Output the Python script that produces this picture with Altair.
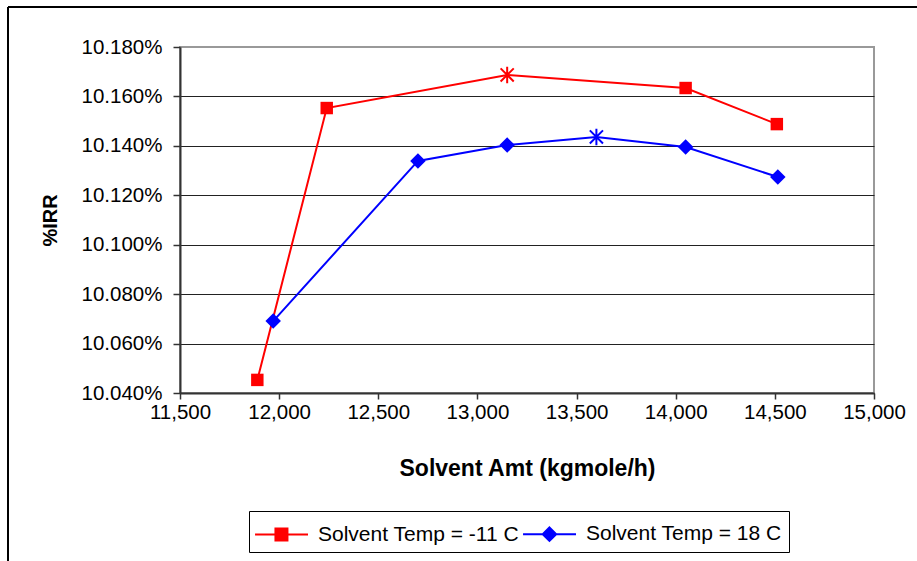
import altair as alt
import pandas as pd

# ---- data ----
series_names = ["Solvent Temp = -11 C", "Solvent Temp = 18 C"]
red_x = [11890, 12240, 13150, 14050, 14510]
red_y = [10.0453, 10.1553, 10.1687, 10.1634, 10.1488]
blue_x = [11970, 12700, 13150, 13600, 14050, 14515]
blue_y = [10.0691, 10.1339, 10.1403, 10.1436, 10.1395, 10.1274]
x_ticks = [11500, 12000, 12500, 13000, 13500, 14000, 14500, 15000]
y_ticks = [10.04, 10.06, 10.08, 10.10, 10.12, 10.14, 10.16, 10.18]

frames = []
for name, xs, ys in [(series_names[0], red_x, red_y), (series_names[1], blue_x, blue_y)]:
    d = pd.DataFrame({"series": name, "amt": xs, "irr": ys})
    d["is_max"] = d["irr"] == d["irr"].max()
    frames.append(d)
df = pd.concat(frames, ignore_index=True)

FONT = "Liberation Sans"
colors = ["#FF0000", "#0000FF"]
ASTERISK = "M0,-1V1M-0.8,-0.8L0.8,0.8M-0.8,0.8L0.8,-0.8"
LEG_RED = "M-1.13,0H2.4M0.23,-0.4H1.03V0.4H0.23Z"
LEG_BLUE = "M-1.13,0H2.4M0.63,-0.45L1.08,0L0.63,0.45L0.18,0Z"

legend = alt.Legend(
    title=None, orient="none", legendX=69, legendY=464, direction="horizontal",
    strokeColor="black", fillColor="white", padding=7,
    symbolSize=900, symbolStrokeWidth=2, symbolOpacity=1,
    labelFont=FONT, labelFontSize=21, labelColor="black", labelOffset=30,
    columnPadding=0, labelLimit=400,
)

x_enc = alt.X(
    "amt:Q",
    scale=alt.Scale(domain=[11500, 15000], nice=False, zero=False),
    axis=alt.Axis(
        values=x_ticks, format=",.0f", title="Solvent Amt (kgmole/h)", grid=False,
        labelFont=FONT, labelFontSize=20.5, labelColor="black", labelPadding=3,
        labelOverlap=False, labelFlush=False,
        tickSize=6, tickColor="#333333", tickWidth=1.5,
        domainColor="#333333", domainWidth=2,
        titleFont=FONT, titleFontSize=23, titleFontWeight="bold", titleColor="black",
        titleX=347, titleY=75, titleBaseline="middle", titleAlign="center",
    ),
)
y_enc = alt.Y(
    "irr:Q",
    scale=alt.Scale(domain=[10.04, 10.18], nice=False, zero=False),
    axis=alt.Axis(
        values=y_ticks, labelExpr="format(datum.value, '.3f') + '%'", title="%IRR",
        grid=True,
        gridColor={"condition": {"test": "datum.value > 10.179", "value": "#999999"}, "value": "#222222"},
        gridWidth=1,
        labelFont=FONT, labelFontSize=20.5, labelColor="black", labelPadding=11,
        labelFlush=False,
        tickSize=7, tickColor="#333333", tickWidth=1.5,
        domainColor="#333333", domainWidth=2,
        titleFont=FONT, titleFontSize=20, titleFontWeight="bold", titleColor="black",
        titleX=-130, titleY=173, titleAngle=270, titleBaseline="middle", titleAlign="center",
    ),
)
color_enc = alt.Color("series:N", scale=alt.Scale(domain=series_names, range=colors), legend=None)

base = alt.Chart(df).encode(x=x_enc, y=y_enc)

lines = base.mark_line(strokeWidth=2).encode(color=color_enc)
red_pts = base.transform_filter(
    alt.datum.series == series_names[0]
).transform_filter("!datum.is_max").mark_point(
    shape="square", filled=True, opacity=1, size=155, color=colors[0]
)
blue_pts = base.transform_filter(
    alt.datum.series == series_names[1]
).transform_filter("!datum.is_max").mark_point(
    shape="diamond", filled=True, opacity=1, size=240, color=colors[1]
)
stars = base.transform_filter("datum.is_max").mark_point(
    shape=ASTERISK, filled=False, size=270, strokeWidth=2, opacity=1
).encode(color=color_enc)

# legend-only layer (invisible marks, supplies the line+marker legend)
legend_layer = base.mark_point(filled=True, opacity=0, strokeWidth=2).encode(
    fill=alt.Fill("series:N", scale=alt.Scale(domain=series_names, range=colors), legend=legend),
    stroke=alt.Stroke("series:N", scale=alt.Scale(domain=series_names, range=colors), legend=legend),
    shape=alt.Shape("series:N", scale=alt.Scale(domain=series_names, range=[LEG_RED, LEG_BLUE]), legend=legend),
)

frame_df = pd.DataFrame({"k": [0]})
top_border = alt.Chart(frame_df).mark_rule(color="black", strokeWidth=2).encode(
    x=alt.value(-172), x2=alt.value(737), y=alt.value(-40)
)
left_border = alt.Chart(frame_df).mark_rule(color="black", strokeWidth=2).encode(
    x=alt.value(-172), y=alt.value(-40), y2=alt.value(514)
)

chart = alt.layer(legend_layer, lines, red_pts, blue_pts, stars, top_border, left_border).properties(
    width=694, height=346,
    autosize=alt.AutoSizeParams(type="none"),
    padding={"left": 180, "top": 47, "right": 43, "bottom": 168},
    background="white",
).configure_view(stroke="#999999", strokeWidth=2)

chart.save("out.html", embed_options={"renderer": "svg", "actions": False})
